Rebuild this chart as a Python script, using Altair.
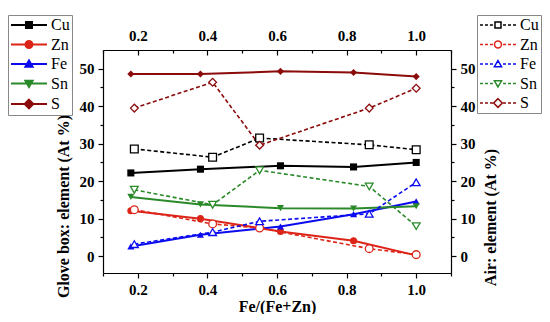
import altair as alt
import pandas as pd

# ---------------- data ----------------
elements = ["Cu", "Zn", "Fe", "Sn", "S"]

glove_x = [0.18, 0.38, 0.61, 0.82, 1.00]
glove_cu = [22.2, 23.2, 24.1, 23.8, 25.0]
glove_zn = [12.1, 10.0, 6.6, 4.1, 0.2]
glove_fe = [2.6, 5.7, 7.9, 11.2, 14.6]
glove_sn = [15.8, 13.8, 12.8, 12.7, 13.3]
glove_s = [48.6, 48.6, 49.3, 49.0, 47.9]

air_x = [0.19, 0.415, 0.55, 0.865, 1.00]
air_cu = [28.6, 26.4, 31.5, 29.7, 28.4]
air_zn = [12.4, 8.6, 7.5, 2.0, 0.4]
air_fe = [3.2, 6.4, 9.3, 11.3, 19.7]
air_sn = [17.7, 13.7, 22.9, 18.6, 8.0]
air_s = [39.5, 46.4, 29.6, 39.5, 44.8]

x_major = [0.2, 0.4, 0.6, 0.8, 1.0]
x_minor = [0.1, 0.3, 0.5, 0.7, 0.9, 1.1]
y_major = [0, 10, 20, 30, 40, 50]
y_minor = [5, 15, 25, 35, 45]

# ---------------- styles ----------------
colors = ["#000000", "#dd2418", "#0b0bf0", "#2a8a2a", "#8b0a0a"]
shapes = ["square", "circle", "triangle-up", "triangle-down", "diamond"]

markers = [
    "M1.33,-0.5H2.33V0.5H1.33Z",
    "M1.25,0A0.58 0.58 0 1 0 2.41,0A0.58 0.58 0 1 0 1.25,0Z",
    "M1.83,-0.58L2.43,0.45L1.23,0.45Z",
    "M1.83,0.58L2.43,-0.45L1.23,-0.45Z",
    "M1.83,-0.72L2.55,0L1.83,0.72L1.11,0Z",
]
solid_seg = "M-1.17,0H4.83"
dash_seg = "M-1.17,0H-0.67M-0.34,0H0.16M0.49,0H0.99M2.67,0H3.17M3.5,0H4.0M4.33,0H4.83"
glove_paths = [solid_seg + m for m in markers]
air_paths = [dash_seg + m for m in markers]


def long(xs, series):
    rows = []
    for el, vals in zip(elements, series):
        for xv, v in zip(xs, vals):
            rows.append({"x": xv, "value": v, "element": el})
    return pd.DataFrame(rows)


glove = long(glove_x, [glove_cu, glove_zn, glove_fe, glove_sn, glove_s])
air = long(air_x, [air_cu, air_zn, air_fe, air_sn, air_s])

FONT = "Liberation Serif"
xs = alt.Scale(domain=[0.1, 1.1], nice=False, zero=False)
ys = alt.Scale(domain=[-4.5, 55], nice=False, zero=False)
cs = alt.Scale(domain=elements, range=colors)


def X(axis):
    return alt.X("x:Q", scale=xs, axis=axis)


def Y(axis):
    return alt.Y("value:Q", scale=ys, axis=axis)


ax_bottom = alt.Axis(orient="bottom", values=x_major, format=".1f", tickSize=5,
                     labelPadding=4, title="Fe/(Fe+Zn)", titlePadding=1)
ax_bottom_minor = alt.Axis(orient="bottom", values=x_minor, tickSize=3, labels=False,
                           domain=False, title=None)
ax_top = alt.Axis(orient="top", values=x_major, format=".1f", ticks=False,
                  labelPadding=7, title=None)
ax_top_in = alt.Axis(orient="top", values=x_major, tickSize=5, offset=-5, labels=False,
                     domain=False, title=None)
ax_top_in_minor = alt.Axis(orient="top", values=x_minor, tickSize=3, offset=-3,
                           labels=False, domain=False, title=None)

ax_left = alt.Axis(orient="left", values=y_major, tickSize=5, labelPadding=4,
                   title="Glove box: element (At %)", titleAngle=270, titleX=-40,
                   titleY=156, titleAlign="center", titleBaseline="middle")
ax_left_minor = alt.Axis(orient="left", values=y_minor, tickSize=3, labels=False,
                         domain=False, title=None)
ax_right = alt.Axis(orient="right", values=y_major, tickSize=5, labelPadding=4,
                    title="Air: element (At %)", titleAngle=270, titleX=39,
                    titleY=167, titleAlign="center", titleBaseline="middle")
ax_right_minor = alt.Axis(orient="right", values=y_minor, tickSize=3, labels=False,
                          domain=False, title=None)


def legend(lx, sw):
    return alt.Legend(title=None, orient="none", legendX=lx, legendY=-35,
                      direction="vertical", symbolSize=144, symbolStrokeWidth=sw,
                      labelFont=FONT, labelFontSize=16, labelColor="black",
                      labelOffset=25, strokeColor="#888888", padding=2,
                      rowPadding=3.5, symbolOpacity=1, fillColor="white")


glove_lines = alt.Chart(glove).mark_line(strokeWidth=2).encode(
    x=X(ax_bottom), y=Y(ax_left), color=alt.Color("element:N", scale=cs, legend=None))

air_lines = alt.Chart(air).mark_line(strokeWidth=1.6, strokeDash=[4, 2.5]).encode(
    x=X(ax_bottom_minor), y=Y(ax_left_minor),
    color=alt.Color("element:N", scale=cs, legend=None))

glove_pts = alt.Chart(glove).mark_point(filled=True, size=50, opacity=1).encode(
    x=X(ax_top), y=Y(ax_right), color=alt.Color("element:N", scale=cs, legend=None),
    shape=alt.Shape("element:N", scale=alt.Scale(domain=elements, range=shapes), legend=None))

air_pts = alt.Chart(air).mark_point(filled=False, fill="white", size=60, opacity=1,
                                    strokeWidth=1.3).encode(
    x=X(ax_top_in), y=Y(ax_right_minor),
    color=alt.Color("element:N", scale=cs, legend=None),
    shape=alt.Shape("element:N", scale=alt.Scale(domain=elements, range=shapes), legend=None))

L1 = legend(-95, 2)
glove_leg = alt.Chart(glove).mark_point(opacity=0, filled=True).encode(
    x=X(ax_top_in_minor), y=Y(None),
    fill=alt.Fill("element:N", scale=alt.Scale(domain=elements, range=colors), legend=L1),
    stroke=alt.Stroke("element:N", scale=alt.Scale(domain=elements, range=colors), legend=L1),
    shape=alt.Shape("element:N", scale=alt.Scale(domain=elements, range=glove_paths), legend=L1))

L2 = legend(374, 1.5)
air_leg = alt.Chart(air).mark_point(opacity=0).encode(
    x=X(None), y=Y(None),
    fill=alt.Fill("element:N", scale=alt.Scale(domain=elements, range=["white"] * 5), legend=L2),
    stroke=alt.Stroke("element:N", scale=alt.Scale(domain=elements, range=colors), legend=L2),
    shape=alt.Shape("element:N", scale=alt.Scale(domain=elements, range=air_paths), legend=L2))

chart = alt.layer(glove_lines, air_lines, glove_pts, air_pts, glove_leg, air_leg).resolve_scale(
    shape="independent", fill="independent", stroke="independent"
).resolve_axis(x="independent", y="independent").properties(
    width=348, height=223,
    autosize=alt.AutoSizeParams(type="none"),
    padding={"left": 95, "top": 42, "right": 91, "bottom": 41},
    background="white",
).configure_view(stroke=None).configure_axis(
    labelFont=FONT, labelFontSize=15, labelFontWeight="bold", labelColor="black",
    titleFont=FONT, titleFontSize=16, titleFontWeight="bold", titleColor="black",
    domainColor="black", domainWidth=1.2, tickColor="black", tickWidth=1.2, grid=False,
)

chart.save("out.html", embed_options={"renderer": "svg", "actions": False})
